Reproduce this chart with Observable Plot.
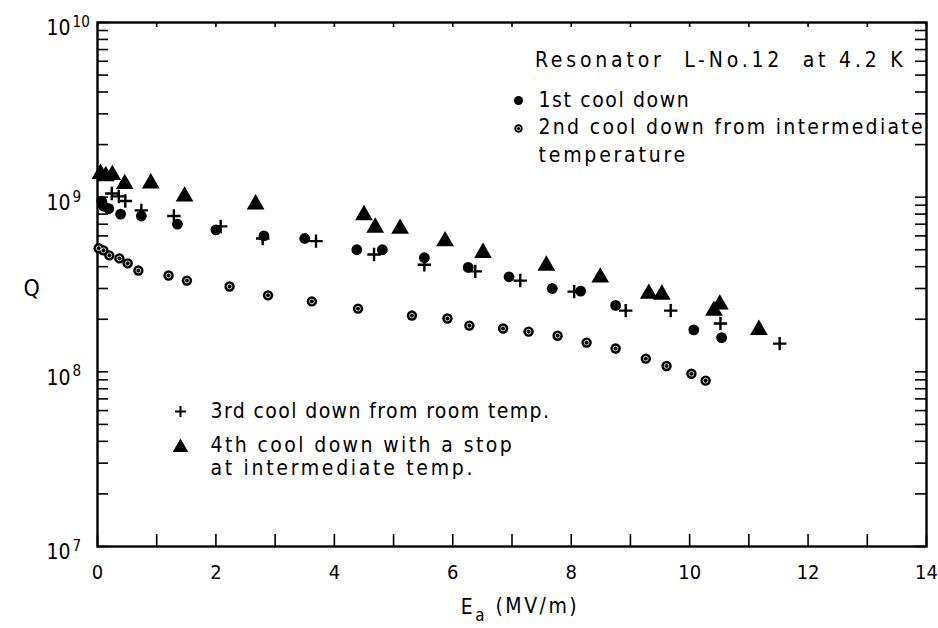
<!DOCTYPE html>
<html><head><meta charset="utf-8">
<script src="https://cdn.jsdelivr.net/npm/d3@7"></script>
<script src="https://cdn.jsdelivr.net/npm/@observablehq/plot@0.6"></script>
<style>
body{margin:0;background:#fff;}
#chart svg{display:block;}
</style></head><body><div id="chart"></div>
<script>
// 1st cool down (filled circles)
const firstE = [0.07,0.10,0.19,0.39,0.74,1.35,2.0,2.81,3.50,4.38,4.81,5.52,6.26,6.95,7.68,8.16,8.75,10.07,10.54];
const firstQ = [9.5e8,8.9e8,8.6e8,8.0e8,7.8e8,7.0e8,6.5e8,6.0e8,5.8e8,5.0e8,5.0e8,4.5e8,3.96e8,3.5e8,3.0e8,2.9e8,2.4e8,1.74e8,1.57e8];
// 2nd cool down from intermediate temperature (circled dots)
const secondE = [0.02,0.10,0.20,0.37,0.51,0.69,1.20,1.51,2.23,2.88,3.62,4.40,5.31,5.91,6.28,6.85,7.28,7.77,8.26,8.75,9.26,9.61,10.03,10.27];
const secondQ = [5.1e8,4.96e8,4.64e8,4.46e8,4.18e8,3.8e8,3.56e8,3.33e8,3.08e8,2.74e8,2.53e8,2.3e8,2.1e8,2.02e8,1.84e8,1.77e8,1.7e8,1.61e8,1.47e8,1.36e8,1.19e8,1.08e8,9.75e7,8.9e7];
// 3rd cool down from room temp. (plus)
const thirdE = [0.24,0.36,0.47,0.74,1.29,2.08,2.79,3.69,4.67,5.52,6.38,7.14,8.05,8.92,9.68,10.52,11.52];
const thirdQ = [1.05e9,1.01e9,9.5e8,8.4e8,7.8e8,6.8e8,5.8e8,5.6e8,4.7e8,4.1e8,3.76e8,3.33e8,2.88e8,2.24e8,2.24e8,1.89e8,1.45e8];
// 4th cool down with a stop at intermediate temp. (triangles)
const fourthE = [0.05,0.14,0.25,0.46,0.90,1.47,2.67,4.50,4.69,5.11,5.87,6.51,7.58,8.49,9.31,9.53,10.41,10.51,11.17];
const fourthQ = [1.36e9,1.32e9,1.34e9,1.19e9,1.2e9,1.01e9,9.1e8,7.9e8,6.7e8,6.6e8,5.6e8,4.8e8,4.06e8,3.47e8,2.8e8,2.77e8,2.24e8,2.43e8,1.74e8];

const xTickLabels = [0,2,4,6,8,10,12,14];
const xMinorTicks = d3.range(0,15,1);
const yTickLabels = [1e7,1e8,1e9,1e10];
const yMinorTicks = [];
for (const dec of [1e7,1e8,1e9]) for (let m=1;m<10;m++) yMinorTicks.push(m*dec);
yMinorTicks.push(1e10);

const headerText = "Resonator  L-No.12  at 4.2 K";
const seriesNames = ["1st cool down","2nd cool down from intermediate","temperature","3rd cool down from room temp.","4th cool down with a stop","at intermediate temp."];
const xTitle = "Ea (MV/m)";
const yTitle = "Q";

const zip = (xs, ys) => xs.map((x,i)=>({E:x,Q:ys[i]}));
const s1 = zip(firstE, firstQ), s2 = zip(secondE, secondQ), s3 = zip(thirdE, thirdQ), s4 = zip(fourthE, fourthQ);

const W = 938, H = 628, mL = 97, mR = 12, mT = 22, mB = 82;
const fw = W - mL - mR, fh = H - mT - mB;
const FONT = "'DejaVu Sans Condensed','Liberation Sans Narrow','DejaVu Sans',sans-serif";

const legendText = (txt, anchor, dx, dy) =>
  Plot.text([txt], {frameAnchor: anchor, dx, dy, textAnchor: "start", lineAnchor: "middle", fontSize: 21});

const plot = Plot.plot({
  width: W, height: H,
  marginLeft: mL, marginRight: mR, marginTop: mT, marginBottom: mB,
  style: {fontFamily: FONT, fontSize: "19px", color: "black", background: "white"},
  x: {domain: [0,14]},
  y: {type: "log", domain: [1e7,1e10]},
  marks: [
    // inward ticks
    Plot.ruleY(yMinorTicks, {y: d=>d, insetRight: fw - 11, strokeWidth: 1.6}),
    Plot.ruleY(yMinorTicks, {y: d=>d, insetLeft: fw - 11, strokeWidth: 1.6}),
    Plot.ruleX(xMinorTicks, {x: d=>d, insetTop: fh - 12, strokeWidth: 1.6}),
    Plot.ruleX(xMinorTicks, {x: d=>d, insetBottom: fh - 5, strokeWidth: 1.6}),
    Plot.frame({stroke: "black", strokeWidth: 2.4}),
    Plot.axisX({anchor: "bottom", ticks: xTickLabels, tickSize: 0, tickPadding: 18, fontSize: 20, label: null}),
    Plot.axisY({anchor: "left", ticks: yTickLabels, tickSize: 0, tickPadding: 51, textAnchor: "start", dy: 6, fontSize: 21,
      tickFormat: d => String(Math.round(Math.log10(d))), label: null}),
    // data
    Plot.dot(s2, {x: "E", y: "Q", r: 5.2, fill: "black"}),
    Plot.dot(s2, {x: "E", y: "Q", r: 2.4, fill: "none", stroke: "white", strokeWidth: 0.8}),
    Plot.dot(s1, {x: "E", y: "Q", r: 5.4, fill: "black"}),
    Plot.dot(s3, {x: "E", y: "Q", symbol: "plus", r: 4.4, stroke: "black", strokeWidth: 2.4}),
    Plot.dot(s4, {x: "E", y: "Q", symbol: "triangle", r: 6.6, fill: "black"}),
    // header / legends
    Plot.text([headerText], {frameAnchor: "top-right", dx: -20, dy: 38, textAnchor: "end", lineAnchor: "middle", fontSize: 21}),
    Plot.dot([seriesNames[0]], {frameAnchor: "top-left", dx: 421, dy: 78, r: 4.5, fill: "black"}),
    legendText(seriesNames[0], "top-left", 441, 78),
    Plot.dot([seriesNames[1]], {frameAnchor: "top-left", dx: 421, dy: 106, r: 4.2, fill: "black"}),
    Plot.dot([seriesNames[1]], {frameAnchor: "top-left", dx: 421, dy: 106, r: 2, fill: "none", stroke: "white", strokeWidth: 0.8}),
    legendText(seriesNames[1], "top-left", 441, 105),
    legendText(seriesNames[2], "top-left", 441, 133),
    Plot.dot([seriesNames[3]], {frameAnchor: "bottom-left", dx: 83, dy: -135, symbol: "plus", r: 3.6, stroke: "black", strokeWidth: 2}),
    legendText(seriesNames[3], "bottom-left", 113, -135),
    Plot.dot([seriesNames[4]], {frameAnchor: "bottom-left", dx: 83, dy: -99, symbol: "triangle", r: 5.8, fill: "black"}),
    legendText(seriesNames[4], "bottom-left", 113, -101),
    legendText(seriesNames[5], "bottom-left", 113, -78),
    // axis titles
    Plot.text([xTitle], {frameAnchor: "bottom", dx: 8, dy: 61, lineAnchor: "middle", fontSize: 21}),
    Plot.text([yTitle], {frameAnchor: "left", dx: -74, dy: 4, lineAnchor: "middle", fontSize: 23})
  ]
});

const svg = d3.select(plot);
// letter spacing of the free texts
const spacing = new Map([
  [headerText, "3.8px"],
  [seriesNames[0], "1.6px"],
  [seriesNames[1], "2.3px"],
  [seriesNames[2], "2.8px"],
  [seriesNames[3], "1.4px"],
  [seriesNames[4], "2.4px"],
  [seriesNames[5], "2.7px"]
]);
svg.selectAll("text").each(function(){
  const t = d3.select(this);
  const s = spacing.get(t.text());
  if (s) t.attr("letter-spacing", s);
});
// superscript exponents on y tick labels
svg.selectAll('g[aria-label="y-axis tick label"] text').each(function(){
  const t = d3.select(this); const e = t.text(); t.text("");
  t.append("tspan").text("10");
  t.append("tspan").attr("dy","-0.55em").attr("dx","2").attr("font-size","0.72em").text(e);
});
// subscript in x title
svg.selectAll("text").each(function(){
  const t = d3.select(this);
  if (t.text() === xTitle) {
    t.text("").attr("letter-spacing","2.5px");
    t.append("tspan").text("E");
    t.append("tspan").attr("dy","0.4em").attr("font-size","0.8em").text("a");
    t.append("tspan").attr("dy","-0.4em").text(" (MV/m)");
  }
});
document.getElementById("chart").appendChild(plot);
</script>
</body></html>
